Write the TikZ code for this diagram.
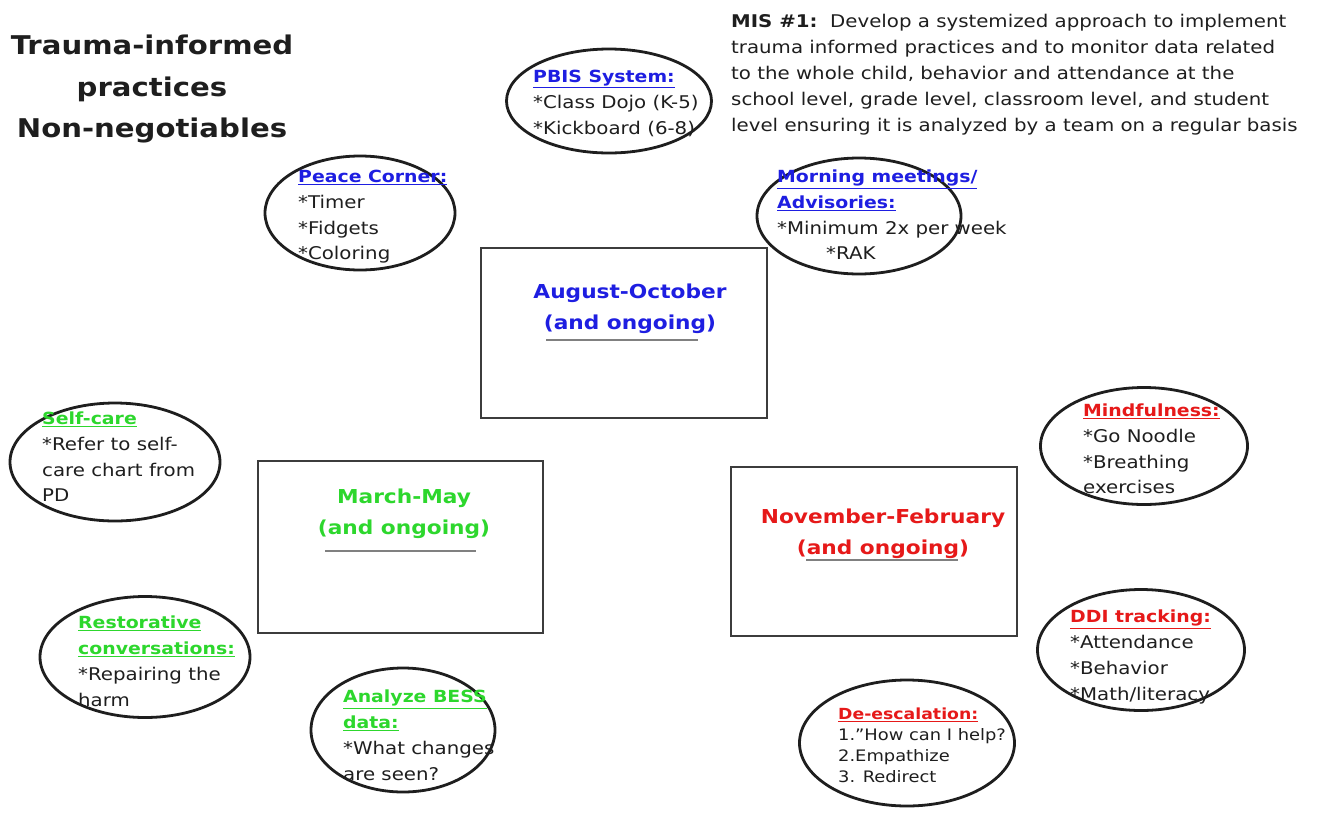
\documentclass[tikz,border=0pt]{standalone}
\usepackage{fontspec}
\setmainfont[FakeStretch=1.13]{DejaVu Sans}
\usetikzlibrary{shapes.geometric}
\definecolor{tblue}{RGB}{30,30,225}
\definecolor{tgreen}{RGB}{45,215,45}
\definecolor{tred}{RGB}{230,25,25}
\definecolor{ink}{RGB}{30,30,30}
\definecolor{boxline}{RGB}{60,60,60}
\newcommand\bubhead[2]{{\color{#1}\bfseries\fontsize{16.7}{25.7}\selectfont\underline{#2}}}
\begin{document}
\begin{tikzpicture}[x=1pt,y=-1pt,
  bub/.style={draw=ink, line width=2.8pt, ellipse, inner sep=0pt},
  period/.style={draw=boxline, line width=2.4pt, rectangle, inner sep=0pt},
  txt/.style={anchor=north west, align=left, inner sep=0pt, text=ink, font=\fontsize{17.5}{25.7}\selectfont},
  ptxt/.style={align=center, inner sep=0pt, font=\bfseries\fontsize{19.2}{31}\selectfont},
  uline/.style={draw=gray, line width=1.6pt}
]
\useasboundingbox (0,0) rectangle (1320,812);
\fill[white] (0,0) rectangle (1320,812);

% title
\node[align=center, inner sep=0pt, text=ink, font=\bfseries\fontsize{25.8}{41.5}\selectfont] (title) at (152,89) {Trauma-informed\\practices\\Non-negotiables};

% MIS statement
\node[anchor=north west, align=left, inner sep=0pt, text=ink, font=\fontsize{17.5}{26.1}\selectfont] (mis) at (731,14)
{\textbf{MIS \#1:}\ \ Develop a systemized approach to implement\\
trauma informed practices and to monitor data related\\
to the whole child, behavior and attendance at the\\
school level, grade level, classroom level, and student\\
level ensuring it is analyzed by a team on a regular basis};

% period boxes
\node[period, minimum width=286pt, minimum height=170pt] (aug) at (624,333) {};
\node[period, minimum width=285pt, minimum height=172pt] (mar) at (400.5,547) {};
\node[period, minimum width=286pt, minimum height=169pt] (nov) at (874,551.5) {};

\node[ptxt, text=tblue] (augt) at (630,309) {August-October\\(and ongoing)};
\draw[uline] (546,340) -- (698,340);
\node[ptxt, text=tgreen] (mart) at (404,514) {March-May\\(and ongoing)};
\draw[uline] (325,551) -- (476,551);
\node[ptxt, text=tred] (novt) at (883,534) {November-February\\(and ongoing)};
\draw[uline] (806,560) -- (958,560);

% bubbles
\node[bub, minimum width=205pt, minimum height=104pt] (pbis) at (609,101) {};
\node[bub, minimum width=190pt, minimum height=114pt] (peace) at (360,213) {};
\node[bub, minimum width=204pt, minimum height=116pt] (morn) at (859,216) {};
\node[bub, minimum width=210pt, minimum height=118pt] (self) at (115,462) {};
\node[bub, minimum width=207pt, minimum height=117pt] (mind) at (1144,446) {};
\node[bub, minimum width=210pt, minimum height=121pt] (rest) at (145,657) {};
\node[bub, minimum width=184pt, minimum height=124pt] (bess) at (403,730) {};
\node[bub, minimum width=215pt, minimum height=126pt] (desc) at (907,743) {};
\node[bub, minimum width=207pt, minimum height=121pt] (ddi) at (1141,650) {};

% bubble texts
\node[txt] (pbist) at (533,70) {\bubhead{tblue}{PBIS System:}\\{}*Class Dojo (K-5)\\{}*Kickboard (6-8)};
\node[txt] (peacet) at (298,170) {\bubhead{tblue}{Peace Corner:}\\{}*Timer\\{}*Fidgets\\{}*Coloring};
\node[txt] (mornt) at (777,170) {\bubhead{tblue}{Morning meetings/}\\\bubhead{tblue}{Advisories:}\\{}*Minimum 2x per week\\\hspace*{49pt}*RAK};
\node[txt] (selft) at (42,412) {\bubhead{tgreen}{Self-care}\\{}*Refer to self-\\care chart from\\PD};
\node[txt] (mindt) at (1083,404) {\bubhead{tred}{Mindfulness:}\\{}*Go Noodle\\{}*Breathing\\exercises};
\node[txt] (restt) at (78,616) {\bubhead{tgreen}{Restorative}\\\bubhead{tgreen}{conversations:}\\{}*Repairing the\\harm};
\node[txt] (besst) at (343,690) {\bubhead{tgreen}{Analyze BESS}\\\bubhead{tgreen}{data:}\\{}*What changes\\are seen?};
\node[txt, font=\fontsize{15.8}{21}\selectfont] (desct) at (838,708) {{\color{tred}\bfseries\fontsize{15.3}{21}\selectfont\underline{De-escalation:}}\\1.\char34 How can I help?\\2.Empathize\\3. Redirect};
\node[txt] (ddit) at (1070,610) {\bubhead{tred}{DDI tracking:}\\{}*Attendance\\{}*Behavior\\{}*Math/literacy};
\end{tikzpicture}
\end{document}
